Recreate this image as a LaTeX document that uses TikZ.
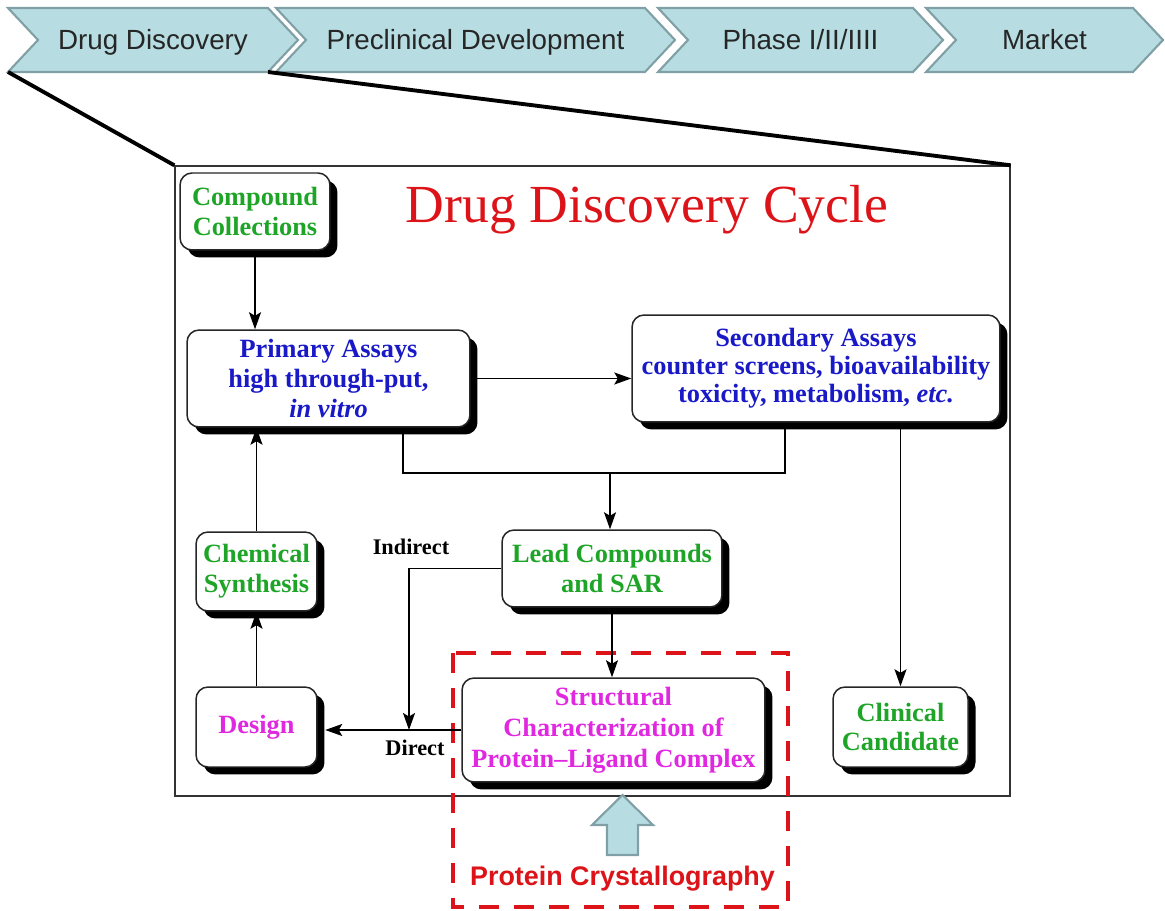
\documentclass[tikz,border=0pt]{standalone}
\usepackage{fontspec}
\usepackage{xcolor}
\usepackage{tikz}
\usetikzlibrary{arrows.meta,shadows,positioning}

\newfontfamily\chevfont{Liberation Sans}
\newfontfamily\boxserif{Liberation Serif}

\definecolor{chevfill}{RGB}{183,221,226}
\definecolor{chevline}{RGB}{128,160,165}
\definecolor{ddgreen}{RGB}{30,165,40}
\definecolor{ddblue}{RGB}{25,25,200}
\definecolor{ddmagenta}{RGB}{225,40,225}
\definecolor{ddred}{RGB}{220,20,25}

\begin{document}
\begin{tikzpicture}[
    x=0.02cm, y=-0.02cm,
    box/.style={rectangle, rounded corners=0.24cm, draw=black!85, line width=0.85pt, fill=white,
        drop shadow={shadow xshift=0.15cm, shadow yshift=-0.15cm, opacity=1, fill=black},
        align=center, inner sep=0pt, font={\boxserif\bfseries\fontsize{15}{17}\selectfont}},
    arrow/.style={-{Stealth[length=0.34cm, width=0.24cm, inset=0.07cm]}, line width=0.8pt},
    link/.style={line width=0.8pt},
    chev/.style={draw=chevline, fill=chevfill, line width=1.2pt},
    chevtext/.style={font=\chevfont\fontsize{15.8}{19}\selectfont, text=black!85, anchor=base},
    zoomline/.style={line width=2.2pt},
    cycframe/.style={draw=black!80, line width=0.85pt, minimum width=16.7cm, minimum height=12.6cm, inner sep=0pt},
    pathlabel/.style={font={\boxserif\bfseries\fontsize{12.7}{14}\selectfont}}
]
\useasboundingbox (0,0) rectangle (1165,911);

% stages
\foreach \l/\r/\txt/\nm in {8/268/{Drug Discovery}/ch1, 276/645/{Preclinical Development}/ch2,
    658/913/{Phase I/II/IIII}/ch3, 926/1133/{Market}/ch4} {
  \draw[chev] (\l,8) -- (\r,8) -- ({\r+30},40) -- (\r,72) -- (\l,72) -- ({\l+30},40) -- cycle;
  \node[chevtext] (\nm) at ({(\l+\r)/2+15},50) {\txt};
}

% cycle frame
\node[cycframe] (cyc) at (592.5,481) {};
\coordinate (c1l) at (8,72);
\coordinate (c1r) at (268,72);
\draw[zoomline] (c1l) -- (cyc.north west);
\draw[zoomline] (c1r) -- (cyc.north east);

\node[font={\boxserif\fontsize{30.5}{36}\selectfont}, text=ddred, anchor=base] (ttl) at (647,223) {Drug Discovery Cycle};

% crystallography
\draw[ddred, line width=0.08cm, dash pattern=on 0.4cm off 0.3cm] (453,653) rectangle (788,907);
\draw[chev] (607,855) -- (607,825) -- (592,825) -- (622.5,795) -- (653,825) -- (638,825) -- (638,855) -- cycle;
\node[font=\chevfont\bfseries\fontsize{15.3}{18}\selectfont, text=ddred, anchor=base] (pclbl) at (622.5,885) {Protein Crystallography};

% boxes
\node[box, text=ddgreen, minimum width=3cm, minimum height=1.54cm] (cc) at (255,211.5) {Compound\\Collections};
\node[box, text=ddblue, minimum width=5.66cm, minimum height=1.94cm] (pa) at (328.5,378.5) {Primary Assays\\high through-put,\\{\itshape in vitro}};
\node[box, text=ddblue, minimum width=7.36cm, minimum height=2.14cm, font={\boxserif\bfseries\fontsize{15}{16}\selectfont}] (sa) at (816,368.5) {Secondary Assays\\counter screens, bioavailability\\toxicity, metabolism, {\itshape etc.}};
\node[box, text=ddgreen, minimum width=4.4cm, minimum height=1.54cm] (lc) at (612,568.5) {Lead Compounds\\and SAR};
\node[box, text=ddgreen, minimum width=2.42cm, minimum height=1.58cm] (cs) at (256.5,571.5) {Chemical\\Synthesis};
\node[box, text=ddmagenta, minimum width=2.42cm, minimum height=1.6cm] (ds) at (256.5,727) {Design};
\node[box, text=ddmagenta, minimum width=6.06cm, minimum height=2.08cm, font={\boxserif\bfseries\fontsize{15}{17.6}\selectfont}] (sc) at (613.5,730) {Structural\\Characterization of\\Protein–Ligand Complex};
\node[box, text=ddgreen, minimum width=2.7cm, minimum height=1.6cm] (cand) at (900.5,727) {Clinical\\Candidate};

\node[pathlabel] (indlbl) at (411,547) {Indirect};
\node[pathlabel] (dirlbl) at (415,748) {Direct};

% connectors
\coordinate (mrg) at (610,473);
\coordinate (dir) at (409,730);
\coordinate (dsedge) at ([xshift=0.15cm]ds.east);
\draw[arrow] (cc.south) -- (cc.south |- pa.north);
\draw[arrow] (pa.east) -- (pa.east -| sa.west);
\draw[link] ([xshift=1.49cm]pa.south) |- (mrg) -| ([xshift=-0.62cm]sa.south);
\draw[arrow] (mrg) -- (mrg |- lc.north);
\draw[arrow] (cand.north |- sa.south) -- (cand.north);
\draw[arrow] (lc.south) -- (lc.south |- sc.north);
\draw[arrow] (sc.west) -- (sc.west -| dsedge);
\draw[arrow] (lc.west) -| (dir);
\draw[arrow] (ds.north) -- (cs.south);
\draw[arrow] (cs.north) -- (cs.north |- pa.south);
\end{tikzpicture}
\end{document}
